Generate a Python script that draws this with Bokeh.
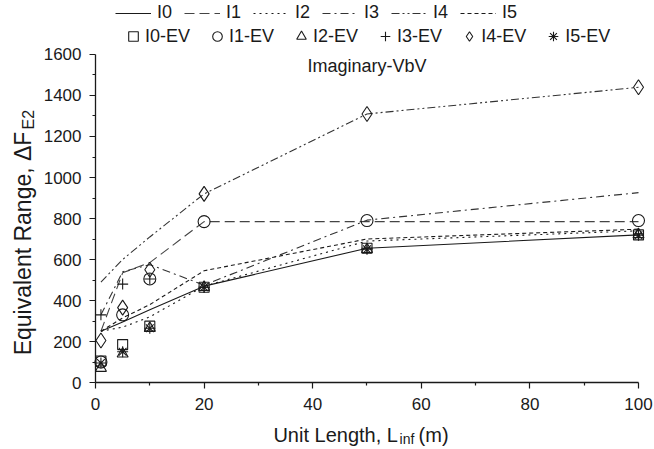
import math
from bokeh.plotting import figure
from bokeh.models import Legend, LegendItem, Label, FixedTicker, Range1d, LinearAxis
from bokeh.embed import file_html
from bokeh.resources import INLINE

# ---- data ----
x_len = [1, 5, 10, 20, 50, 100]

I0 = [250, 295, 355, 470, 655, 720]
I1 = [250, 535, 585, 785, 785, 785]
I2 = [250, 270, 320, 470, 690, 740]
I3 = [330, 540, 575, 475, 792, 926]
I4 = [490, 600, 710, 920, 1310, 1440]
I5 = [250, 315, 380, 545, 700, 748]

I0_EV = [105, 185, 275, 465, 655, 720]
I1_EV = [100, 330, 505, 785, 790, 790]
I2_EV = [70, 140, 265, 465, 650, 722]
I3_EV = [330, 480, 505, 465, 655, 725]
I4_EV = [205, 365, 550, 920, 1310, 1440]
I5_EV = [95, 150, 265, 465, 650, 718]

line_names = ["I0", "I1", "I2", "I3", "I4", "I5"]
ev_names = ["I0-EV", "I1-EV", "I2-EV", "I3-EV", "I4-EV", "I5-EV"]

x_ticks = [0, 20, 40, 60, 80, 100]
x_minor = [10, 30, 50, 70, 90]
y_ticks = [0, 200, 400, 600, 800, 1000, 1200, 1400, 1600]
y_minor = [100, 300, 500, 700, 900, 1100, 1300, 1500]

FONT = "Liberation Sans"
INK = "#1a1a1a"

# frame covers whole canvas; data 0..100 -> px 95..638, 0..1600 -> px 382..54
p = figure(width=654, height=449, output_backend="svg", toolbar_location=None,
           x_range=Range1d(-17.495, 102.947), y_range=Range1d(-326.8, 1863.4),
           x_axis_location=None, y_axis_location=None,
           min_border=0)
p.xgrid.visible = False
p.ygrid.visible = False
p.outline_line_color = None
p.background_fill_color = "white"
p.border_fill_color = "white"

xax = LinearAxis(fixed_location=0, bounds=(0, 100),
                 ticker=FixedTicker(ticks=x_ticks, minor_ticks=x_minor))
yax = LinearAxis(fixed_location=0, bounds=(0, 1600),
                 ticker=FixedTicker(ticks=y_ticks, minor_ticks=y_minor))
for ax in (xax, yax):
    ax.axis_line_color = INK
    ax.axis_line_width = 1.3
    ax.major_tick_line_color = INK
    ax.minor_tick_line_color = INK
    ax.major_tick_line_width = 1.2
    ax.minor_tick_line_width = 1.2
    ax.major_tick_out = 6
    ax.major_tick_in = 0
    ax.minor_tick_out = 3
    ax.minor_tick_in = 0
    ax.major_label_text_font = FONT
    ax.major_label_text_font_size = "17px"
    ax.major_label_text_color = INK
xax.major_label_standoff = 9
yax.major_label_standoff = 8
p.add_layout(xax, "below")
p.add_layout(yax, "left")

styles = [
    dict(line_dash="solid", line_color=INK),
    dict(line_dash="10 5", line_color="#444444"),
    dict(line_dash="2 4", line_color=INK),
    dict(line_dash="8 4 2 4", line_color="#333333"),
    dict(line_dash="8 3 2 3 2 3", line_color="#333333"),
    dict(line_dash="4 3", line_color=INK),
]
line_series = [I0, I1, I2, I3, I4, I5]
line_r = []
for ys, st in zip(line_series, styles):
    line_r.append(p.line(x_len, ys, line_width=1.1, **st))

markers = ["square", "circle", "triangle", "cross", "diamond", "asterisk"]
sizes = [10, 12, 11, 11, 15, 11]
ev_series = [I0_EV, I1_EV, I2_EV, I3_EV, I4_EV, I5_EV]
ev_r = []
for ys, m, s in zip(ev_series, markers, sizes):
    ev_r.append(p.scatter(x_len, ys, marker=m, size=s, fill_color=None,
                          line_color=INK, line_width=1.1))

leg1 = Legend(items=[LegendItem(label=n, renderers=[r]) for n, r in zip(line_names, line_r)],
              orientation="horizontal", location=(115, 426),
              glyph_width=36, glyph_height=18, label_height=18, label_standoff=6,
              spacing=7, padding=0, margin=0, border_line_color=None,
              background_fill_alpha=0, label_text_font=FONT, label_text_font_size="18px",
              label_text_color=INK)
leg2 = Legend(items=[LegendItem(label=n, renderers=[r]) for n, r in zip(ev_names, ev_r)],
              orientation="horizontal", location=(121, 401),
              glyph_width=24, glyph_height=24, label_height=18, label_standoff=0,
              spacing=15, padding=0, margin=0, border_line_color=None,
              background_fill_alpha=0, label_text_font=FONT, label_text_font_size="18px",
              label_text_color=INK)
p.add_layout(leg1)
p.add_layout(leg2)

# inner title
p.add_layout(Label(x=50, y=1546, text="Imaginary-VbV", text_align="center",
                   text_baseline="middle", text_font=FONT, text_font_size="18px",
                   text_color=INK))

# x axis title (with subscript)
p.add_layout(Label(x=55.7, y=-254, text="Unit Length, L", text_align="right",
                   text_baseline="alphabetic", text_font=FONT, text_font_size="20px",
                   text_color=INK))
p.add_layout(Label(x=56.0, y=-278, text="inf", text_align="left",
                   text_baseline="alphabetic", text_font=FONT, text_font_size="14px",
                   text_color=INK))
p.add_layout(Label(x=59.5, y=-254, text="(m)", text_align="left",
                   text_baseline="alphabetic", text_font=FONT, text_font_size="20px",
                   text_color=INK))

# y axis title (with subscript)
p.add_layout(Label(x=-13.3, y=1224, text="Equivalent Range, \u0394F", angle=math.pi / 2,
                   text_align="right", text_baseline="alphabetic", text_font=FONT,
                   text_font_size="23px", text_color=INK))
p.add_layout(Label(x=-12.4, y=1234, text="E2", angle=math.pi / 2,
                   text_align="left", text_baseline="alphabetic", text_font=FONT,
                   text_font_size="16px", text_color=INK))

open("out.html", "w").write(file_html(p, INLINE))
